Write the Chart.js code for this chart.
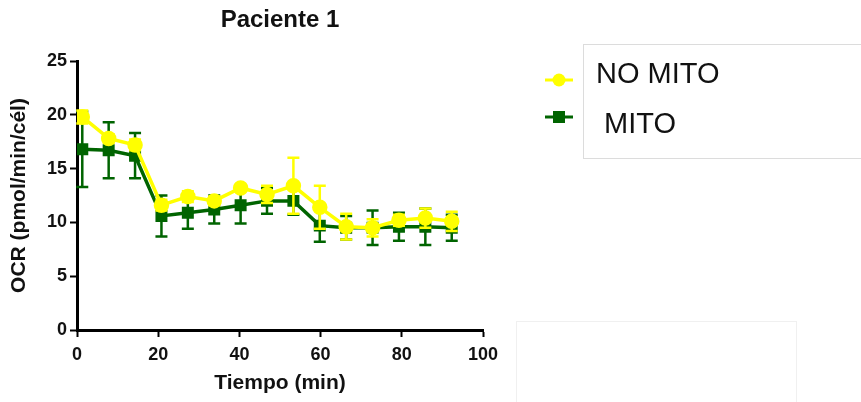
<!DOCTYPE html>
<html>
<head>
<meta charset="utf-8">
<script src="https://cdn.jsdelivr.net/npm/chart.js@4"></script>
<style>
  html, body { margin: 0; padding: 0; background: #fff; }
  #wrap { width: 861px; height: 402px; position: relative; }
</style>
</head>
<body>
<div id="wrap"><canvas id="chart-ocr"></canvas></div>
<script>
const tiempo = [1.3, 7.8, 14.3, 20.8, 27.3, 33.8, 40.3, 46.8, 53.3, 59.8, 66.3, 72.8, 79.3, 85.8, 92.3];

const noMito = [19.8, 17.8, 17.2, 11.6, 12.4, 12.0, 13.2, 12.6, 13.4, 11.4, 9.6, 9.5, 10.2, 10.4, 10.1];
const noMitoErr = [0.6, 0.4, 0.5, 0.5, 0.5, 0.4, 0.3, 0.8, 2.6, 2.0, 1.2, 0.8, 0.5, 0.9, 0.9];

const mito = [16.8, 16.7, 16.2, 10.6, 10.9, 11.2, 11.6, 12.0, 12.0, 9.7, 9.5, 9.5, 9.6, 9.6, 9.5];
const mitoErr = [3.5, 2.6, 2.1, 1.9, 1.5, 1.3, 1.7, 1.2, 1.3, 1.5, 1.1, 1.6, 1.3, 1.7, 1.2];

const xTicks = [0, 20, 40, 60, 80, 100];
const yTicks = [0, 5, 10, 15, 20, 25];

const amarillo = '#ffff00';
const verde = '#006400';
const fuente = '"Liberation Sans", Arial';

const toPoints = (xs, ys) => xs.map((x, i) => ({ x: x, y: ys[i] }));

const errors = [noMitoErr, mitoErr];

// error bars go under each dataset's line and markers
const errorBars = {
    id: 'errorBars',
    beforeDatasetDraw(chart, args) {
        const ctx = chart.ctx;
        const ys = chart.scales.y;
        const ds = chart.data.datasets[args.index];
        const err = errors[args.index];
        ctx.save();
        ctx.strokeStyle = ds.borderColor;
        ctx.lineWidth = 2.5;
        args.meta.data.forEach((pt, i) => {
            const v = ds.data[i].y;
            const top = ys.getPixelForValue(v + err[i]);
            const bot = ys.getPixelForValue(v - err[i]);
            ctx.beginPath();
            ctx.moveTo(pt.x, top);
            ctx.lineTo(pt.x, bot);
            ctx.moveTo(pt.x - 6, top);
            ctx.lineTo(pt.x + 6, top);
            ctx.moveTo(pt.x - 6, bot);
            ctx.lineTo(pt.x + 6, bot);
            ctx.stroke();
        });
        ctx.restore();
    }
};

const extras = {
    id: 'extras',
    afterDraw(chart) {
        const ctx = chart.ctx;
        const a = chart.chartArea;
        ctx.save();
        // title
        ctx.fillStyle = '#111';
        ctx.font = 'bold 24px ' + fuente;
        ctx.textAlign = 'center';
        ctx.textBaseline = 'middle';
        ctx.fillText('Paciente 1', (a.left + a.right) / 2, 20);

        // legend boxes
        ctx.strokeStyle = '#dcdcdc';
        ctx.lineWidth = 1;
        ctx.strokeRect(583.5, 44.5, 290, 114);
        ctx.strokeStyle = '#f0f0f0';
        ctx.strokeRect(516.5, 321.5, 280, 90);

        // legend entries
        const items = [
            { label: 'NO MITO', color: amarillo, shape: 'circle', y: 80, ty: 75 },
            { label: ' MITO', color: verde, shape: 'rect', y: 117, ty: 125 }
        ];
        items.forEach(it => {
            ctx.strokeStyle = it.color;
            ctx.fillStyle = it.color;
            ctx.lineWidth = 3;
            ctx.beginPath();
            ctx.moveTo(545, it.y);
            ctx.lineTo(573, it.y);
            ctx.stroke();
            if (it.shape === 'circle') {
                ctx.beginPath();
                ctx.arc(559, it.y, 6.5, 0, Math.PI * 2);
                ctx.fill();
            } else {
                ctx.fillRect(553, it.y - 6, 12, 12);
            }
            ctx.fillStyle = '#111';
            ctx.font = '29px ' + fuente;
            ctx.textAlign = 'left';
            ctx.textBaseline = 'middle';
            ctx.fillText(it.label, 596, it.ty);
        });
        ctx.restore();
    }
};

const data = {
    datasets: [{
        label: 'NO MITO',
        data: toPoints(tiempo, noMito),
        borderColor: amarillo,
        backgroundColor: amarillo,
        borderWidth: 3.5,
        pointStyle: 'circle',
        pointRadius: 6,
        pointHoverRadius: 6,
    }, {
        label: 'MITO',
        data: toPoints(tiempo, mito),
        borderColor: verde,
        backgroundColor: verde,
        borderWidth: 3.5,
        pointStyle: 'rect',
        pointRadius: 6,
        pointHoverRadius: 6,
    }]
};

const tickFont = { family: fuente, size: 18, weight: 'bold' };
const titleFont = { family: fuente, size: 21, weight: 'bold' };

const config = {
    type: 'line',
    data: data,
    plugins: [errorBars, extras],
    options: {
        responsive: true,
        maintainAspectRatio: false,
        animation: false,
        layout: { padding: { left: 0, right: 378, top: 61, bottom: 0 } },
        plugins: {
            legend: { display: false },
            title: { display: false },
            tooltip: { enabled: false }
        },
        scales: {
            x: {
                type: 'linear',
                min: 0,
                max: 100,
                afterBuildTicks: s => { s.ticks = xTicks.map(v => ({ value: v })); },
                afterFit: s => { s.height = 402 - 330; },
                border: { color: '#000', width: 3 },
                grid: { drawOnChartArea: false, drawTicks: true, tickLength: 7, tickWidth: 2, color: '#000' },
                ticks: { color: '#111', font: tickFont, padding: 7, maxRotation: 0 },
                title: { display: true, text: 'Tiempo (min)', color: '#111', font: titleFont, padding: { top: 6, bottom: 6 } }
            },
            y: {
                min: 0,
                max: 25,
                afterBuildTicks: s => { s.ticks = yTicks.map(v => ({ value: v })); },
                afterFit: s => { s.width = 77; },
                border: { color: '#000', width: 3 },
                grid: { drawOnChartArea: false, drawTicks: true, tickLength: 7, tickWidth: 2, color: '#000' },
                ticks: { color: '#111', font: tickFont, padding: 3 },
                title: { display: true, text: 'OCR (pmol/min/cél)', color: '#111', font: titleFont, padding: { top: 7, bottom: 2 } }
            }
        }
    }
};

const ocrChart = new Chart(document.getElementById('chart-ocr'), config);
</script>
</body>
</html>
